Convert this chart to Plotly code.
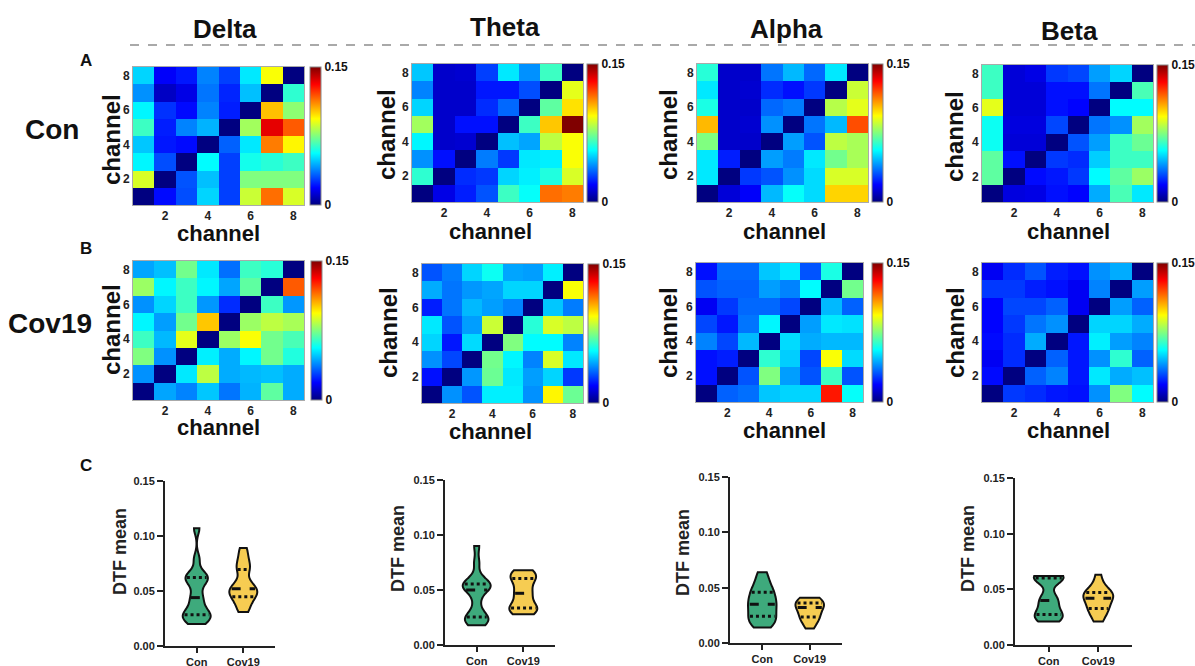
import numpy as np
import plotly.graph_objects as go

# ---------------- DATA ----------------
bands = ["Delta", "Theta", "Alpha", "Beta"]
channels = [1, 2, 3, 4, 5, 6, 7, 8]
rows_top_down = [8, 7, 6, 5, 4, 3, 2, 1]
groups = ["Con", "Cov19"]

# DTF matrices, rows listed from channel 8 (top) down to channel 1 (bottom)
con_delta = [
    [0.050, 0.018, 0.022, 0.038, 0.028, 0.053, 0.093, 0.000],
    [0.040, 0.010, 0.015, 0.036, 0.024, 0.047, 0.000, 0.063],
    [0.055, 0.026, 0.020, 0.038, 0.023, 0.000, 0.103, 0.077],
    [0.065, 0.023, 0.038, 0.045, 0.000, 0.080, 0.135, 0.118],
    [0.048, 0.022, 0.020, 0.000, 0.033, 0.053, 0.113, 0.095],
    [0.055, 0.030, 0.000, 0.056, 0.028, 0.059, 0.062, 0.065],
    [0.088, 0.000, 0.031, 0.047, 0.028, 0.075, 0.075, 0.075],
    [0.000, 0.020, 0.030, 0.050, 0.028, 0.086, 0.115, 0.088],
]
con_theta = [
    [0.048, 0.011, 0.012, 0.028, 0.053, 0.040, 0.065, 0.000],
    [0.038, 0.011, 0.011, 0.022, 0.022, 0.030, 0.000, 0.090],
    [0.050, 0.011, 0.011, 0.025, 0.034, 0.000, 0.070, 0.098],
    [0.080, 0.011, 0.021, 0.021, 0.000, 0.065, 0.102, 0.150],
    [0.055, 0.011, 0.012, 0.000, 0.047, 0.043, 0.084, 0.093],
    [0.040, 0.021, 0.000, 0.037, 0.027, 0.053, 0.054, 0.093],
    [0.063, 0.000, 0.025, 0.027, 0.050, 0.054, 0.061, 0.088],
    [0.000, 0.015, 0.023, 0.031, 0.065, 0.057, 0.115, 0.113],
]
con_alpha = [
    [0.062, 0.011, 0.011, 0.036, 0.046, 0.034, 0.053, 0.000],
    [0.053, 0.011, 0.012, 0.025, 0.021, 0.027, 0.000, 0.086],
    [0.060, 0.011, 0.011, 0.034, 0.037, 0.000, 0.083, 0.090],
    [0.104, 0.011, 0.012, 0.040, 0.000, 0.036, 0.046, 0.120],
    [0.075, 0.011, 0.011, 0.000, 0.042, 0.031, 0.084, 0.081],
    [0.053, 0.023, 0.000, 0.042, 0.037, 0.053, 0.073, 0.081],
    [0.053, 0.000, 0.027, 0.031, 0.040, 0.051, 0.088, 0.088],
    [0.000, 0.013, 0.018, 0.046, 0.057, 0.051, 0.100, 0.100],
]
con_beta = [
    [0.065, 0.013, 0.015, 0.027, 0.029, 0.042, 0.050, 0.000],
    [0.065, 0.013, 0.013, 0.021, 0.021, 0.036, 0.000, 0.067],
    [0.090, 0.013, 0.013, 0.021, 0.019, 0.000, 0.056, 0.056],
    [0.058, 0.014, 0.014, 0.029, 0.000, 0.036, 0.040, 0.080],
    [0.058, 0.013, 0.013, 0.000, 0.031, 0.042, 0.065, 0.072],
    [0.070, 0.021, 0.000, 0.027, 0.025, 0.049, 0.065, 0.065],
    [0.070, 0.000, 0.020, 0.022, 0.027, 0.056, 0.070, 0.079],
    [0.000, 0.014, 0.015, 0.021, 0.019, 0.044, 0.067, 0.053],
]
cov_delta = [
    [0.043, 0.047, 0.073, 0.053, 0.035, 0.065, 0.062, 0.000],
    [0.079, 0.055, 0.065, 0.055, 0.043, 0.070, 0.000, 0.118],
    [0.040, 0.050, 0.065, 0.041, 0.025, 0.000, 0.065, 0.041],
    [0.055, 0.042, 0.073, 0.102, 0.000, 0.079, 0.084, 0.081],
    [0.065, 0.046, 0.090, 0.000, 0.079, 0.093, 0.073, 0.067],
    [0.075, 0.040, 0.000, 0.054, 0.044, 0.055, 0.073, 0.061],
    [0.040, 0.000, 0.053, 0.084, 0.044, 0.046, 0.047, 0.044],
    [0.000, 0.043, 0.038, 0.048, 0.036, 0.045, 0.070, 0.044],
]
cov_theta = [
    [0.031, 0.037, 0.050, 0.058, 0.043, 0.042, 0.054, 0.000],
    [0.044, 0.036, 0.041, 0.043, 0.050, 0.050, 0.000, 0.093],
    [0.023, 0.036, 0.046, 0.042, 0.038, 0.000, 0.048, 0.037],
    [0.053, 0.031, 0.042, 0.086, 0.000, 0.062, 0.088, 0.084],
    [0.050, 0.022, 0.051, 0.000, 0.075, 0.056, 0.056, 0.038],
    [0.040, 0.029, 0.000, 0.073, 0.055, 0.038, 0.088, 0.053],
    [0.021, 0.000, 0.041, 0.072, 0.053, 0.042, 0.050, 0.027],
    [0.000, 0.040, 0.031, 0.054, 0.054, 0.040, 0.095, 0.072],
]
cov_alpha = [
    [0.021, 0.034, 0.034, 0.048, 0.053, 0.031, 0.060, 0.000],
    [0.031, 0.033, 0.033, 0.042, 0.038, 0.056, 0.000, 0.073],
    [0.017, 0.027, 0.034, 0.034, 0.029, 0.000, 0.046, 0.033],
    [0.029, 0.022, 0.036, 0.055, 0.000, 0.042, 0.053, 0.052],
    [0.038, 0.029, 0.046, 0.000, 0.051, 0.044, 0.046, 0.046],
    [0.021, 0.023, 0.000, 0.063, 0.049, 0.029, 0.093, 0.051],
    [0.021, 0.000, 0.031, 0.075, 0.042, 0.031, 0.065, 0.031],
    [0.000, 0.033, 0.035, 0.048, 0.050, 0.050, 0.128, 0.057],
]
cov_beta = [
    [0.017, 0.025, 0.031, 0.023, 0.021, 0.040, 0.044, 0.000],
    [0.027, 0.027, 0.023, 0.021, 0.017, 0.038, 0.000, 0.042],
    [0.019, 0.029, 0.029, 0.033, 0.017, 0.000, 0.042, 0.033],
    [0.019, 0.027, 0.036, 0.040, 0.000, 0.050, 0.050, 0.044],
    [0.020, 0.025, 0.044, 0.000, 0.022, 0.054, 0.042, 0.038],
    [0.017, 0.025, 0.000, 0.033, 0.022, 0.040, 0.063, 0.033],
    [0.020, 0.000, 0.033, 0.038, 0.022, 0.053, 0.044, 0.047],
    [0.000, 0.027, 0.025, 0.022, 0.021, 0.040, 0.075, 0.056],
]

# DTF mean per subject (estimated from violin shapes)
dtf_con_delta = [0.020, 0.023, 0.026, 0.027, 0.029, 0.031, 0.036, 0.042,
                 0.046, 0.055, 0.060, 0.062, 0.063, 0.066, 0.079, 0.107]
dtf_cov_delta = [0.031, 0.035, 0.040, 0.044, 0.045, 0.048, 0.050, 0.051,
                 0.053, 0.055, 0.060, 0.069, 0.071, 0.076, 0.082, 0.089]
dtf_con_theta = [0.018, 0.021, 0.023, 0.024, 0.026, 0.031, 0.040, 0.048,
                 0.052, 0.053, 0.054, 0.055, 0.057, 0.062, 0.075, 0.090]
dtf_cov_theta = [0.028, 0.030, 0.032, 0.033, 0.034, 0.036, 0.042, 0.046,
                 0.048, 0.052, 0.058, 0.060, 0.062, 0.064, 0.066, 0.068]
dtf_con_alpha = [0.014, 0.017, 0.020, 0.022, 0.025, 0.028, 0.031, 0.034,
                 0.036, 0.039, 0.042, 0.045, 0.048, 0.052, 0.057, 0.064]
dtf_cov_alpha = [0.013, 0.018, 0.021, 0.022, 0.024, 0.025, 0.029, 0.031,
                 0.033, 0.034, 0.035, 0.036, 0.037, 0.038, 0.040, 0.041]
dtf_con_beta = [0.021, 0.023, 0.025, 0.026, 0.028, 0.030, 0.036, 0.039,
                0.041, 0.045, 0.058, 0.060, 0.061, 0.061, 0.062, 0.062]
dtf_cov_beta = [0.021, 0.025, 0.030, 0.032, 0.033, 0.035, 0.040, 0.041,
                0.043, 0.044, 0.045, 0.047, 0.048, 0.050, 0.055, 0.063]

con_mats = [con_delta, con_theta, con_alpha, con_beta]
cov_mats = [cov_delta, cov_theta, cov_alpha, cov_beta]
dtf_con = [dtf_con_delta, dtf_con_theta, dtf_con_alpha, dtf_con_beta]
dtf_cov = [dtf_cov_delta, dtf_cov_theta, dtf_cov_alpha, dtf_cov_beta]

# ---------------- LAYOUT / STYLE ----------------
W, H = 1195, 666
FONT = "Liberation Sans, Arial, sans-serif"
JET = [[0.0, "rgb(0,0,128)"], [0.125, "rgb(0,0,255)"], [0.375, "rgb(0,255,255)"],
       [0.625, "rgb(255,255,0)"], [0.875, "rgb(255,0,0)"], [1.0, "rgb(128,0,0)"]]
GREEN = "rgb(62,170,124)"
YELLOW = "rgb(246,204,82)"

# pixel boxes (x0, x1, y0, y1)
heat_A = [(133, 304, 67, 205), (412, 583, 64, 202), (697, 868, 64, 202), (982, 1153, 65, 202)]
heat_B = [(133, 304, 261, 400), (422, 583, 264, 403), (696, 863, 263, 402), (982, 1153, 263, 402)]
cbar_A = [310, 587, 872, 1157]
cbar_B = [311, 588, 872, 1157]
ytitle_heat_A = [(111, 140), (386, 135), (668, 135), (955, 137)]
ytitle_heat_B = [(111, 330), (388, 333), (668, 333), (955, 333)]
xtitle_heat_A = [(218, 233), (490, 231), (784, 231), (1068, 231)]
xtitle_heat_B = [(218, 428), (490, 431), (784, 430), (1068, 430)]
viol = [(165, 275, 481, 646), (445, 555, 480, 645), (730, 842, 477, 643), (1015, 1132, 478, 645)]
ytitle_viol = [(120, 552), (398, 549), (683, 553), (968, 549)]
col_title = [(225, 29), (505, 27), (786, 29), (1069, 31)]


def px(x):
    return x / W


def py(y):
    return 1 - y / H


fig = go.Figure()
layout = {}
annotations = []
shapes = []
ax_i = 0


def bold(size, color="#1a1a1a"):
    return dict(family=FONT, size=size, color=color, weight="bold")


def note(text, x, y, size, color="#111", angle=0):
    annotations.append(dict(text=text, x=px(x), y=py(y), xref="paper", yref="paper",
                            xanchor="center", yanchor="middle", showarrow=False,
                            textangle=angle, font=bold(size, color)))


def add_heat(mat, box, cbx):
    global ax_i
    ax_i += 1
    xn = "x" if ax_i == 1 else f"x{ax_i}"
    yn = "y" if ax_i == 1 else f"y{ax_i}"
    xk = "xaxis" if ax_i == 1 else f"xaxis{ax_i}"
    yk = "yaxis" if ax_i == 1 else f"yaxis{ax_i}"
    x0, x1, y0, y1 = box
    fig.add_trace(go.Heatmap(
        z=mat, x=channels, y=rows_top_down, zmin=0, zmax=0.15,
        colorscale=JET, xaxis=xn, yaxis=yn, hoverinfo="skip",
        colorbar=dict(x=px(cbx), xanchor="left", y=py(y0), yanchor="top",
                      len=y1 - y0, lenmode="pixels", thickness=11,
                      xpad=0, ypad=0, outlinewidth=1, outlinecolor="#888",
                      tickvals=[0, 0.15], ticktext=["0", "0.15"], ticks="",
                      tickfont=bold(12, "#111")),
    ))
    common = dict(showgrid=False, zeroline=False, showline=True, mirror=True,
                  linecolor="#aaa", linewidth=1, ticks="", automargin=False,
                  tickvals=[2, 4, 6, 8], range=[0.5, 8.5], tickfont=bold(12, "#222"))
    layout[xk] = dict(domain=[px(x0), px(x1)], anchor=yn, **common)
    layout[yk] = dict(domain=[py(y1), py(y0)], anchor=xn, **common)


def kde(vals, bw, pts):
    v = np.asarray(vals)[:, None]
    return np.exp(-0.5 * ((np.asarray(pts)[None, :] - v) / bw) ** 2).sum(axis=0)


def add_violin(a, b, box, bw=0.0055, vwidth=0.6):
    global ax_i
    ax_i += 1
    xn, yn = f"x{ax_i}", f"y{ax_i}"
    xk, yk = f"xaxis{ax_i}", f"yaxis{ax_i}"
    x0, x1, y0, y1 = box
    for i, (g, vals, col) in enumerate(zip(groups, [a, b], [GREEN, YELLOW])):
        fig.add_trace(go.Violin(
            x=[g] * len(vals), y=vals, xaxis=xn, yaxis=yn, fillcolor=col,
            line=dict(color="#111", width=2), points=False, spanmode="hard",
            bandwidth=bw, width=vwidth, showlegend=False, hoverinfo="skip",
            box=dict(visible=False), meanline=dict(visible=False), opacity=1))
        v = np.asarray(vals)
        grid = np.linspace(v.min(), v.max(), 400)
        mx = kde(v, bw, grid).max()
        q1, med, q3 = np.percentile(v, [25, 50, 75])
        for q, dash in [(q1, "dot"), (med, "dash"), (q3, "dot")]:
            hw = vwidth / 2 * kde(v, bw, [q])[0] / mx * 0.88
            shapes.append(dict(type="line", xref=xn, yref=yn, x0=i - hw, x1=i + hw,
                               y0=q, y1=q, line=dict(color="#111", width=3, dash=dash)))
    layout[xk] = dict(domain=[px(x0), px(x1)], anchor=yn, type="category",
                      categoryorder="array", categoryarray=groups, range=[-0.68, 1.68],
                      showline=True, linecolor="#222", linewidth=2, ticks="outside",
                      ticklen=5, tickwidth=2, tickcolor="#222", showgrid=False,
                      zeroline=False, automargin=False, tickfont=bold(11, "#222"))
    layout[yk] = dict(domain=[py(y1), py(y0)], anchor=xn, range=[0, 0.15],
                      tickvals=[0, 0.05, 0.10, 0.15], tickformat=".2f",
                      showline=True, linecolor="#222", linewidth=2, ticks="outside",
                      ticklen=6, tickwidth=2, tickcolor="#222", showgrid=False,
                      zeroline=False, automargin=False, tickfont=bold(11, "#222"))


for k in range(4):
    add_heat(con_mats[k], heat_A[k], cbar_A[k])
for k in range(4):
    add_heat(cov_mats[k], heat_B[k], cbar_B[k])
for k in range(4):
    add_violin(dtf_con[k], dtf_cov[k], viol[k])

# text annotations
for (x, y), t in zip(col_title, bands):
    note(t, x, y, 26)
for lst in (ytitle_heat_A, ytitle_heat_B):
    for (x, y) in lst:
        note("channel", x, y, 24, angle=-90)
for lst in (xtitle_heat_A, xtitle_heat_B):
    for (x, y) in lst:
        note("channel", x, y, 22)
for (x, y) in ytitle_viol:
    note("DTF mean", x, y, 18, "#222", angle=-90)
for t, x, y in [("A", 86, 61), ("B", 86, 249), ("C", 86, 465)]:
    note(t, x, y, 17)
for t, x, y in [("Con", 52, 129), ("Cov19", 50, 323)]:
    note(t, x, y, 28)

shapes.append(dict(type="line", xref="paper", yref="paper", x0=px(130), x1=px(1195),
                   y0=py(45), y1=py(45), line=dict(color="#555", width=1.2, dash="dash")))

fig.update_layout(
    width=W, height=H, margin=dict(l=0, r=0, t=0, b=0),
    paper_bgcolor="white", plot_bgcolor="white", violinmode="overlay",
    showlegend=False, annotations=annotations, shapes=shapes,
    font=dict(family=FONT), **layout)

fig.write_html("out.html")
